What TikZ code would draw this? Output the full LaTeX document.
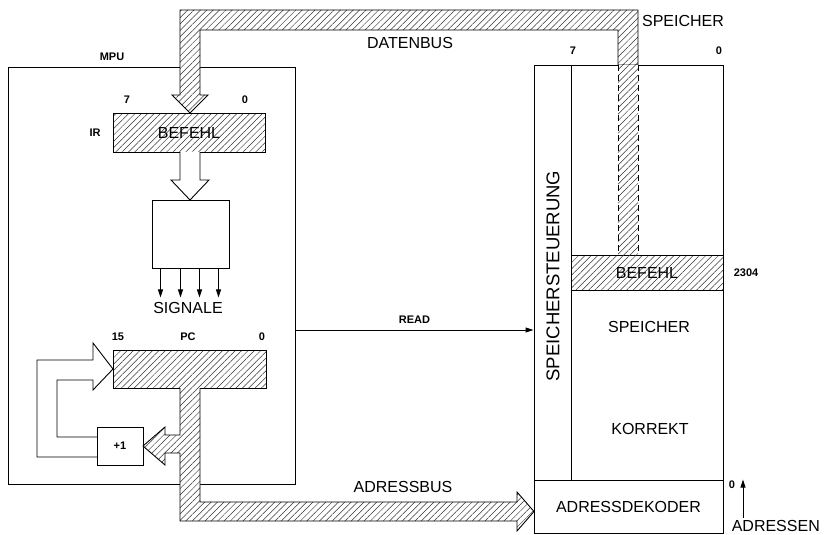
\documentclass[tikz,border=0pt]{standalone}
\usepackage{fontspec}
\setmainfont{Liberation Sans}
\usetikzlibrary{arrows.meta,patterns.meta}

\begin{document}
\begin{tikzpicture}[x=1pt,y=-1pt,line width=0.9pt,
  hatch/.style={preaction={fill=white},pattern={Lines[angle=45,distance=4.5pt,line width=0.5pt]},pattern color=black!80},
  blk/.style={draw,fill=white,inner sep=0pt},
  reg/.style={blk,hatch},
  big/.style={font=\fontsize{16}{18}\selectfont},
  tiny/.style={font=\fontsize{11}{13}\selectfont\bfseries},
  tip/.style={-{Triangle[length=8pt,width=5pt]}}]
  \useasboundingbox (0,0) rectangle (825,535);
  % MPU
  \node[blk,minimum width=287,minimum height=417] (mpu) at (151.5,275.5) {};
  \node[tiny] (mpulbl) at (112,57) {MPU};
  % instruction register
  \node[reg,minimum width=152,minimum height=39,big] (ir) at (189,132.5) {BEFEHL};
  \node[tiny] (irlbl) at (95,133) {IR};
  \node[tiny] (ir7) at (127,100) {7};
  \node[tiny] (ir0) at (245,100) {0};
  % decoder
  \node[blk,minimum width=77,minimum height=68] (dec) at (190.5,234) {};
  \draw[fill=white] (180,152) -- (180,180) -- (171,180) -- (190,200) -- (209,180) -- (200,180) -- (200,152);
  \foreach \dx in {-30,-10,9,28}
    \draw[tip] ([xshift=\dx]dec.south) -- ++(0,29);
  \node[big] (sig) at (188,308) {SIGNALE};
  % program counter
  \node[reg,minimum width=153,minimum height=38] (pc) at (189.5,369) {};
  \node[tiny] (pc15) at (118,337) {15};
  \node[tiny] (pclbl) at (188,337) {PC};
  \node[tiny] (pc0) at (262,337) {0};
  \node[blk,minimum width=46,minimum height=38,tiny] (inc) at (120,446) {+1};
  \draw (97,457) -- (37,457) -- (37,360) -- (93,360) -- (93,343) -- (113,369)
    -- (93,390) -- (93,380) -- (57,380) -- (57,437) -- (97,437);
  % memory
  \node[blk,minimum width=37,minimum height=415] (ctl) at (552.5,272.5) {};
  \node[rotate=90,font=\fontsize{18.5}{20}\selectfont] (ctllbl) at (553,276) {SPEICHERSTEUERUNG};
  \node[blk,minimum width=152,minimum height=415] (mem) at (647,272.5) {};
  \node[blk,minimum width=189,minimum height=53,big] (dek) at (628.5,506.5) {ADRESSDEKODER};
  \node[reg,minimum width=152,minimum height=35,big] (cell) at (647,272.5) {BEFEHL};
  \node[tiny] (celladr) at (746,272.5) {2304};
  \node[big] (memlbl) at (649,327) {SPEICHER};
  \node[big] (ok) at (650,429) {KORREKT};
  \node[tiny] (mem7) at (573,51) {7};
  \node[tiny] (mem0) at (719,51) {0};
  \node[big] (memtop) at (683,21) {SPEICHER};
  % data bus
  \draw[hatch] (190,113) -- (172,95) -- (180,95) -- (180,10) -- (638,10) -- (638,65)
    -- (618,65) -- (618,30) -- (200,30) -- (200,95) -- (208,95) -- cycle;
  \path[hatch] (618,65) rectangle (638,255);
  \draw[dashed,dash pattern=on 6pt off 4pt] (618,65) -- (618,255) (638,65) -- (638,255);
  \node[big] (dbus) at (410,43) {DATENBUS};
  % read line
  \coordinate (rd) at (0,330);
  \draw[tip] (mpu.east |- rd) -- (ctl.west |- rd) node[pos=0.5,above=3pt,tiny] {READ};
  % address bus
  \draw[hatch] (180,388) -- (180,435) -- (165,435) -- (165,427) -- (143,446) -- (165,465)
    -- (165,453) -- (180,453) -- (180,521) -- (517,521) -- (517,531) -- (534,511.5)
    -- (517,492) -- (517,502) -- (200,502) -- (200,388);
  \node[big] (abus) at (403,487) {ADRESSBUS};
  % address input
  \coordinate (ain) at (743,518);
  \draw[tip] (ain) -- (ain |- dek.north);
  \node[tiny] (adr0) at (732,485) {0};
  \node[big,anchor=west] (adrlbl) at (728,526) {ADRESSEN};
\end{tikzpicture}
\end{document}
